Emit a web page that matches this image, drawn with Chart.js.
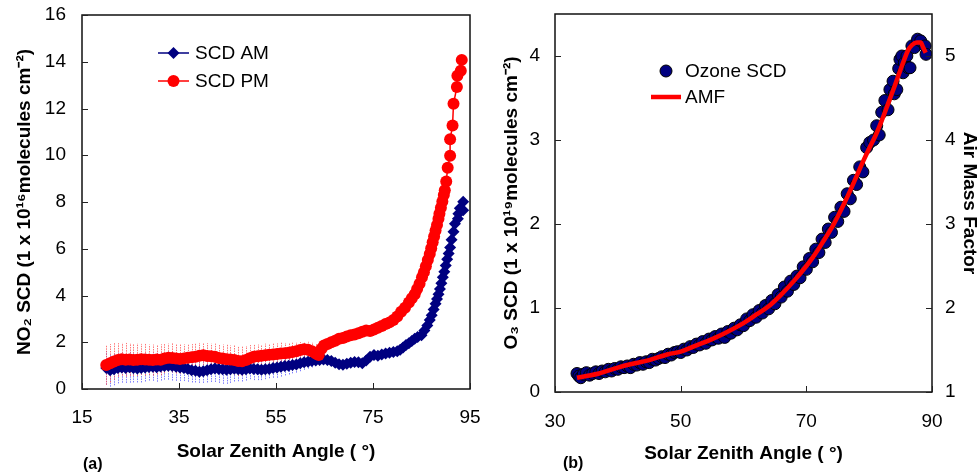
<!DOCTYPE html>
<html><head><meta charset="utf-8">
<script src="https://cdn.jsdelivr.net/npm/chart.js@4"></script>
<style>
html,body{margin:0;padding:0;background:#fff;}
#wrap{position:relative;width:979px;height:474px;overflow:hidden;background:#fff;}
canvas{position:absolute;top:0;}
#c1{left:0}
#c2{left:490px}
.lbl{position:absolute;font:bold 16px "Liberation Sans",Arial,sans-serif;color:#000;line-height:16px;}
</style></head><body>
<div id="wrap">
<canvas id="c1" width="490" height="474"></canvas>
<canvas id="c2" width="489" height="474"></canvas>
<div class="lbl" style="left:83px;top:456px">(a)</div>
<div class="lbl" style="left:563px;top:455px">(b)</div>
</div>
<script>
// ---------- Panel (a): NO2 slant column densities ----------
const amAngle = [20.0,20.8,21.6,22.4,23.2,24.0,24.8,25.6,26.4,27.2,28.0,28.8,29.6,30.4,31.2,32.0,32.8,33.6,34.4,35.2,36.0,36.8,37.6,38.4,39.2,40.0,40.8,41.6,42.4,43.2,44.0,44.8,45.6,46.4,47.2,48.0,48.8,49.6,50.4,51.2,52.0,52.8,53.6,54.4,55.2,56.0,56.8,57.6,58.4,59.2,60.0,60.8,61.6,62.4,
  63.2,64.0,64.8,65.6,66.4,67.2,68.0,68.8,69.6,70.4,71.2,72.0,72.8,73.6,74.4,75.2,76.0,76.8,77.6,78.4,79.2,80.0,80.6,81.2,81.8,82.4,83.0,83.6,84.2,85.0,85.6,86.2,86.7,87.1,87.5,87.9,88.2,88.5,88.8,89.1,89.4,89.7,90.0,90.3,90.6,90.9,91.2,91.6,91.9,92.5,92.6,92.9,93.6,93.6];
const amScd = [0.90,0.80,0.84,0.90,0.92,0.90,0.93,0.90,0.88,0.90,0.92,0.94,0.95,0.93,0.96,0.98,1.00,0.98,0.95,0.92,0.90,0.86,0.80,0.78,0.74,0.76,0.80,0.85,0.88,0.86,0.84,0.82,0.84,0.87,0.85,0.82,0.84,0.88,0.86,0.84,0.82,0.84,0.86,0.90,0.92,0.95,0.98,1.00,1.03,1.05,1.10,1.14,1.17,1.20,
  1.22,1.24,1.26,1.24,1.20,1.12,1.06,1.04,1.08,1.12,1.16,1.14,1.10,1.22,1.38,1.45,1.42,1.48,1.52,1.55,1.58,1.62,1.68,1.78,1.88,1.96,2.05,2.15,2.22,2.30,2.50,2.72,2.95,3.15,3.40,3.65,3.85,4.05,4.28,4.52,4.78,5.02,5.28,5.55,5.80,6.05,6.38,6.73,7.07,7.28,7.50,7.73,7.65,8.01];
const amErr = [0.72,0.70,0.68,0.66,0.65,0.64,0.66,0.62,0.60,0.62,0.60,0.58,0.60,0.62,0.60,0.58,0.60,0.62,0.60,0.58,0.56,0.55,0.52,0.50,0.48,0.50,0.52,0.55,0.58,0.60,0.62,0.60,0.58,0.55,0.52,0.50,0.48,0.46,0.48,0.46,0.44,0.42,0.40,0.42,0.44,0.42,0.40,0.38,0.36,0.35,0.34,0.32,0.30,0.28];

const pmAngle = [20.0,20.8,21.6,22.4,23.2,24.0,24.8,25.6,26.4,27.2,28.0,28.8,29.6,30.4,31.2,32.0,32.8,33.6,34.4,35.2,36.0,36.8,37.6,38.4,39.2,40.0,40.8,41.6,42.4,43.2,44.0,44.8,45.6,46.4,47.2,48.0,48.8,49.6,50.4,51.2,52.0,52.8,53.6,54.4,55.2,56.0,56.8,57.6,58.4,59.2,60.0,60.8,61.6,62.4,63.2,63.8,
  64.4,64.9,65.6,66.4,67.2,68.0,68.8,69.6,70.4,71.2,72.0,72.8,73.6,74.4,75.2,76.0,76.8,77.6,78.4,79.2,80.0,80.8,81.6,82.4,83.0,83.6,84.1,84.6,85.1,85.5,85.9,86.3,86.7,87.0,87.3,87.6,87.9,88.2,88.5,88.7,89.0,89.3,89.6,89.8,90.1,90.4,90.9,90.9,91.4,91.6,92.3,92.4,93.1,93.3];
const pmScd = [1.03,1.10,1.18,1.24,1.27,1.25,1.26,1.24,1.25,1.27,1.26,1.25,1.24,1.26,1.25,1.30,1.34,1.33,1.30,1.28,1.31,1.34,1.36,1.38,1.42,1.44,1.41,1.40,1.38,1.33,1.30,1.27,1.26,1.24,1.20,1.19,1.24,1.32,1.38,1.40,1.42,1.44,1.46,1.48,1.50,1.52,1.53,1.55,1.58,1.62,1.67,1.70,1.68,1.62,1.52,1.45,
  1.72,1.86,1.93,2.00,2.06,2.15,2.18,2.25,2.30,2.33,2.38,2.45,2.50,2.48,2.55,2.62,2.70,2.78,2.85,2.95,3.10,3.30,3.48,3.70,3.88,4.05,4.28,4.50,4.78,5.00,5.25,5.52,5.78,6.02,6.28,6.52,6.78,7.02,7.28,7.50,7.75,8.02,8.30,8.50,8.88,9.47,9.98,10.68,11.27,12.20,12.92,13.40,13.62,14.08];
const pmErr = [0.85,0.82,0.78,0.72,0.70,0.72,0.70,0.68,0.70,0.66,0.68,0.65,0.66,0.64,0.66,0.62,0.60,0.62,0.64,0.62,0.60,0.58,0.56,0.58,0.55,0.52,0.55,0.54,0.56,0.58,0.60,0.62,0.60,0.62,0.64,0.62,0.60,0.56,0.52,0.50,0.48,0.50,0.48,0.46,0.45,0.46,0.44,0.42,0.40,0.38,0.34,0.32,0.34,0.38,0.42,0.45];

const aXTicks = [15,35,55,75,95];
const aYTicks = [0,2,4,6,8,10,12,14,16];

// ---------- Panel (b): Ozone SCD and AMF ----------
const o3Angle = [33.5,33.8,34.1,34.5,35.0,35.5,36.0,36.5,37.0,37.5,38.0,38.5,39.0,39.5,40.0,40.5,41.0,41.5,42.0,42.5,43.0,43.5,44.0,44.5,45.0,45.5,46.0,46.5,47.0,47.5,48.0,48.5,49.0,49.5,50.0,50.5,51.0,51.5,52.0,52.5,53.0,53.5,54.0,54.5,55.0,55.5,56.0,56.5,57.0,57.5,58.0,58.5,59.0,59.5,
  60.0,60.5,61.0,61.5,62.0,62.5,63.0,63.5,64.0,64.5,65.0,65.5,66.0,66.5,67.0,67.5,68.0,68.5,69.0,69.5,70.0,70.5,71.0,71.5,72.0,72.5,73.0,73.5,74.0,74.5,75.0,75.5,76.0,76.5,77.0,77.5,78.0,78.5,79.0,79.6,80.1,80.7,81.2,81.6,82.0,82.5,83.0,83.3,83.8,84.0,84.4,84.7,84.9,85.2,85.4,85.6,86.0,86.2,86.5,86.8,87.2,87.7,88.2,88.9,89.05];
const o3Scd = [0.22,0.19,0.17,0.21,0.23,0.20,0.22,0.24,0.22,0.25,0.24,0.27,0.25,0.28,0.27,0.30,0.29,0.31,0.29,0.33,0.32,0.35,0.33,0.36,0.35,0.39,0.38,0.40,0.42,0.41,0.45,0.44,0.47,0.48,0.47,0.51,0.50,0.54,0.53,0.57,0.56,0.60,0.58,0.63,0.62,0.66,0.64,0.69,0.65,0.72,0.70,0.76,0.74,0.80,
  0.79,0.87,0.85,0.92,0.89,0.97,0.94,1.03,0.99,1.09,1.05,1.16,1.13,1.25,1.20,1.32,1.28,1.38,1.36,1.49,1.46,1.59,1.55,1.70,1.66,1.82,1.78,1.94,1.90,2.08,2.03,2.20,2.15,2.36,2.30,2.52,2.47,2.68,2.62,2.91,2.97,3.00,3.17,3.06,3.33,3.47,3.36,3.60,3.70,3.55,3.60,3.85,3.96,4.00,3.80,3.92,4.00,3.86,3.86,4.12,4.10,4.20,4.18,4.12,4.02];
const amfAngle = [33.5,35,37,40,42,45,48,50,52,55,57,60,62,64,66,68,70,71,72,73,74,75,76,77,78,79,80,81,82,83,84,85,85.6,86.2,86.8,87.6,88.2,88.6,89.0];
const amfValue = [1.17,1.19,1.22,1.29,1.33,1.38,1.45,1.48,1.54,1.63,1.70,1.82,1.92,2.02,2.16,2.32,2.50,2.60,2.71,2.83,2.95,3.09,3.24,3.40,3.57,3.74,3.90,4.05,4.23,4.43,4.63,4.84,4.96,5.07,5.13,5.16,5.16,5.10,5.04];

const bXTicks = [30,50,70,90];
const bYTicks = [0,1,2,3,4];
const bY2Ticks = [1,2,3,4,5];

// ---------- common ----------
const FONT = '"Liberation Sans", Arial, Helvetica, sans-serif';
Chart.defaults.font.family = FONT;
Chart.defaults.color = '#000';
const NAVY = '#000080', RED = '#ff0000';

const pts = (xs, ys) => xs.map((x, i) => ({x, y: ys[i]}));

const framePlugin = {
  id: 'frame',
  afterDatasetsDraw(chart) {
    const {ctx, chartArea: a} = chart;
    ctx.save();
    ctx.strokeStyle = '#111';
    ctx.lineWidth = 1.5;
    ctx.strokeRect(a.left, a.top, a.right - a.left, a.bottom - a.top);
    ctx.lineWidth = 1;
    ctx.strokeStyle = '#222';
    const L = 6;
    Object.values(chart.scales).forEach(s => {
      s.ticks.forEach(t => {
        const p = Math.round(s.getPixelForValue(t.value)) + 0.5;
        ctx.beginPath();
        if (s.isHorizontal()) { ctx.moveTo(p, a.bottom); ctx.lineTo(p, a.bottom - L); }
        else if (s.position === 'left') { ctx.moveTo(a.left, p); ctx.lineTo(a.left + L, p); }
        else { ctx.moveTo(a.right, p); ctx.lineTo(a.right - L, p); }
        ctx.stroke();
      });
    });
    ctx.restore();
  }
};

const errPlugin = {
  id: 'errBars',
  beforeDatasetsDraw(chart) {
    const {ctx, chartArea: a} = chart;
    const xs = chart.scales.x, ys = chart.scales.y;
    ctx.save();
    ctx.beginPath(); ctx.rect(a.left, a.top, a.right - a.left, a.bottom - a.top); ctx.clip();
    ctx.lineWidth = 1;
    ctx.setLineDash([1.5, 1]);
    [...chart.data.datasets].reverse().forEach(ds => {
      if (!ds.errors) return;
      ctx.strokeStyle = ds.errorColor;
      ds.errors.forEach((e, k) => {
        const d = ds.data[k];
        const px = Math.round(xs.getPixelForValue(d.x)) + 0.5;
        ctx.beginPath();
        ctx.moveTo(px, ys.getPixelForValue(d.y - e));
        ctx.lineTo(px, ys.getPixelForValue(d.y + e));
        ctx.stroke();
      });
    });
    ctx.restore();
  }
};

function drawMarker(ctx, style, x, y, r, fill, stroke, bw) {
  ctx.beginPath();
  if (style === 'rectRot') {
    ctx.moveTo(x - r, y); ctx.lineTo(x, y - r); ctx.lineTo(x + r, y); ctx.lineTo(x, y + r); ctx.closePath();
  } else {
    ctx.arc(x, y, r, 0, Math.PI * 2);
  }
  ctx.fillStyle = fill; ctx.fill();
  if (bw) { ctx.lineWidth = bw; ctx.strokeStyle = stroke; ctx.stroke(); }
}

const legendPlugin = {
  id: 'innerLegend',
  afterDraw(chart, args, opts) {
    const {ctx} = chart;
    ctx.save();
    ctx.font = '19px ' + FONT;
    ctx.textBaseline = 'middle';
    ctx.textAlign = 'left';
    opts.items.forEach(it => {
      const ds = chart.data.datasets[it.index];
      if (it.line) {
        ctx.beginPath();
        ctx.strokeStyle = ds.borderColor;
        ctx.lineWidth = it.lineWidth || ds.borderWidth;
        ctx.moveTo(opts.x1, it.y); ctx.lineTo(opts.x2, it.y); ctx.stroke();
      }
      if (it.marker) {
        drawMarker(ctx, ds.pointStyle, it.mx || (opts.x1 + opts.x2) / 2, it.y, ds.pointRadius,
          ds.pointBackgroundColor, ds.pointBorderColor, ds.pointBorderWidth);
      }
      ctx.fillStyle = '#000';
      ctx.fillText(ds.label, opts.textX, it.y + 1);
    });
    ctx.restore();
  }
};

const tickFont = {size: 19, lineHeight: 1.2};
const titleFont = {size: 19, weight: 'bold', lineHeight: 1};
const noGrid = {display: false, drawTicks: false, tickLength: 0};

// ---------- Chart (a) ----------
new Chart(document.getElementById('c1'), {
  type: 'scatter',
  data: {
    datasets: [
      {
        label: 'SCD PM', data: pts(pmAngle, pmScd), showLine: true,
        borderColor: RED, borderWidth: 1.5, pointStyle: 'circle', pointRadius: 6,
        pointBackgroundColor: RED, pointBorderColor: RED, pointBorderWidth: 0,
        errors: pmErr, errorColor: 'rgba(255,70,70,0.75)'
      },
      {
        label: 'SCD AM', data: pts(amAngle, amScd), showLine: true,
        borderColor: NAVY, borderWidth: 1.5, pointStyle: 'rectRot', pointRadius: 6,
        pointBackgroundColor: NAVY, pointBorderColor: NAVY, pointBorderWidth: 0,
        errors: amErr, errorColor: 'rgba(70,70,255,0.7)'
      }
    ]
  },
  options: {
    responsive: false, animation: false, devicePixelRatio: 1,
    layout: {padding: {top: 15, right: 20, left: 0, bottom: 0}},
    plugins: {
      legend: {display: false}, tooltip: {enabled: false},
      innerLegend: {x1: 158, x2: 189, textX: 195, items: [
        {index: 1, y: 53, line: true, marker: true},
        {index: 0, y: 81, line: true, marker: true}
      ]}
    },
    scales: {
      x: {
        type: 'linear', min: 15, max: 95,
        afterBuildTicks: s => { s.ticks = aXTicks.map(v => ({value: v})); },
        ticks: {font: tickFont, padding: 17, color: '#000', maxRotation: 0},
        grid: noGrid, border: {display: false},
        title: {display: true, text: 'Solar Zenith Angle ( °)', font: titleFont, color: '#000', padding: {top: 0, bottom: 12.5}},
        afterFit: s => { s.height = 85; s.paddingLeft = 0; s.paddingRight = 0; }
      },
      y: {
        type: 'linear', position: 'left', min: 0, max: 16,
        afterBuildTicks: s => { s.ticks = aYTicks.map(v => ({value: v})); },
        ticks: {font: tickFont, padding: 16, color: '#000'},
        grid: noGrid, border: {display: false},
        title: {display: true, text: 'NO₂ SCD (1 x 10¹⁶molecules cm⁻²)', font: titleFont, color: '#000', padding: {top: 15.5, bottom: 0}},
        afterFit: s => { s.width = 82; s.paddingTop = 0; s.paddingBottom = 0; }
      }
    }
  },
  plugins: [errPlugin, framePlugin, legendPlugin]
});

// ---------- Chart (b) ----------
new Chart(document.getElementById('c2'), {
  type: 'scatter',
  data: {
    datasets: [
      {
        label: 'AMF', data: pts(amfAngle, amfValue), showLine: true, yAxisID: 'y2',
        borderColor: RED, borderWidth: 4.5, pointRadius: 0, tension: 0.4, cubicInterpolationMode: 'monotone',
        pointStyle: 'circle', pointBackgroundColor: RED, pointBorderColor: RED, pointBorderWidth: 0
      },
      {
        label: 'Ozone SCD', data: pts(o3Angle, o3Scd), showLine: false, yAxisID: 'y',
        pointStyle: 'circle', pointRadius: 6, pointBackgroundColor: NAVY,
        pointBorderColor: '#000', pointBorderWidth: 1, borderColor: '#000'
      }
    ]
  },
  options: {
    responsive: false, animation: false, devicePixelRatio: 1,
    layout: {padding: {top: 14, right: 0, left: 0, bottom: 0}},
    plugins: {
      legend: {display: false}, tooltip: {enabled: false},
      innerLegend: {x1: 161, x2: 191, textX: 195, items: [
        {index: 1, y: 71, line: false, marker: true, mx: 176},
        {index: 0, y: 97, line: true, marker: false, lineWidth: 4.5}
      ]}
    },
    scales: {
      x: {
        type: 'linear', min: 30, max: 90,
        afterBuildTicks: s => { s.ticks = bXTicks.map(v => ({value: v})); },
        ticks: {font: tickFont, padding: 18, color: '#000', maxRotation: 0},
        grid: noGrid, border: {display: false},
        title: {display: true, text: 'Solar Zenith Angle ( °)', font: titleFont, color: '#000', padding: {top: 0, bottom: 10.5}},
        afterFit: s => { s.height = 82; s.paddingLeft = 0; s.paddingRight = 0; }
      },
      y: {
        type: 'linear', position: 'left', min: 0, max: 4.5,
        afterBuildTicks: s => { s.ticks = bYTicks.map(v => ({value: v})); },
        ticks: {font: tickFont, padding: 15, color: '#000'},
        grid: noGrid, border: {display: false},
        title: {display: true, text: 'O₃ SCD (1 x 10¹⁹molecules cm⁻²)', font: titleFont, color: '#000', padding: {top: 12.5, bottom: 0}},
        afterFit: s => { s.width = 65; s.paddingTop = 0; s.paddingBottom = 0; }
      },
      y2: {
        type: 'linear', position: 'right', min: 1, max: 5.5,
        afterBuildTicks: s => { s.ticks = bY2Ticks.map(v => ({value: v})); },
        ticks: {font: tickFont, padding: 13, color: '#000'},
        grid: noGrid, border: {display: false},
        title: {display: true, text: 'Air Mass Factor', font: titleFont, color: '#000', padding: {top: 0, bottom: 0}},
        afterFit: s => { s.width = 47; s.paddingTop = 0; s.paddingBottom = 0; }
      }
    }
  },
  plugins: [framePlugin, legendPlugin]
});
</script>
</body></html>
